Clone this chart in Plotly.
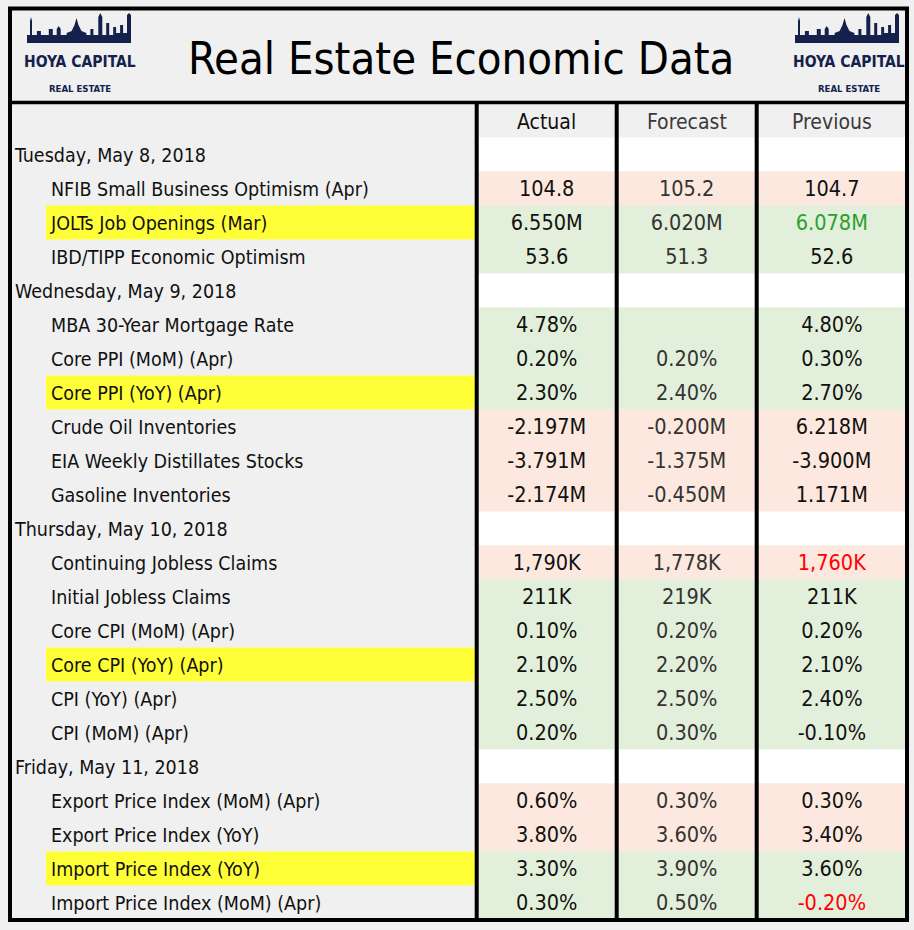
import plotly.graph_objects as go

# ---------------- data ----------------
title = "Real Estate Economic Data"
columns = ["Actual", "Forecast", "Previous"]

row_labels = [
    "Tuesday, May 8, 2018",
    "NFIB Small Business Optimism (Apr)",
    "JOLTs Job Openings (Mar)",
    "IBD/TIPP Economic Optimism",
    "Wednesday, May 9, 2018",
    "MBA 30-Year Mortgage Rate",
    "Core PPI (MoM) (Apr)",
    "Core PPI (YoY) (Apr)",
    "Crude Oil Inventories",
    "EIA Weekly Distillates Stocks",
    "Gasoline Inventories",
    "Thursday, May 10, 2018",
    "Continuing Jobless Claims",
    "Initial Jobless Claims",
    "Core CPI (MoM) (Apr)",
    "Core CPI (YoY) (Apr)",
    "CPI (YoY) (Apr)",
    "CPI (MoM) (Apr)",
    "Friday, May 11, 2018",
    "Export Price Index (MoM) (Apr)",
    "Export Price Index (YoY)",
    "Import Price Index (YoY)",
    "Import Price Index (MoM) (Apr)",
]
is_date_row = [True, False, False, False, True, False, False, False, False, False, False,
               True, False, False, False, False, False, False, True, False, False, False, False]
actual = ["", "104.8", "6.550M", "53.6", "", "4.78%", "0.20%", "2.30%", "-2.197M", "-3.791M",
          "-2.174M", "", "1,790K", "211K", "0.10%", "2.10%", "2.50%", "0.20%", "", "0.60%",
          "3.80%", "3.30%", "0.30%"]
forecast = ["", "105.2", "6.020M", "51.3", "", "", "0.20%", "2.40%", "-0.200M", "-1.375M",
            "-0.450M", "", "1,778K", "219K", "0.20%", "2.20%", "2.50%", "0.30%", "", "0.30%",
            "3.60%", "3.90%", "0.50%"]
previous = ["", "104.7", "6.078M", "52.6", "", "4.80%", "0.30%", "2.70%", "6.218M", "-3.900M",
            "1.171M", "", "1,760K", "211K", "0.20%", "2.10%", "2.40%", "-0.10%", "", "0.30%",
            "3.40%", "3.60%", "-0.20%"]
# row tone: "neg" = peach, "pos" = green, "" = date row
row_tone = ["", "neg", "pos", "pos", "", "pos", "pos", "pos", "neg", "neg", "neg", "",
            "neg", "pos", "pos", "pos", "pos", "pos", "", "neg", "neg", "pos", "pos"]
highlighted = [False, False, True, False, False, False, False, True, False, False, False, False,
               False, False, False, True, False, False, False, False, False, True, False]
# revision flag on the previous value: "up" green, "down" red
previous_revision = ["", "", "up", "", "", "", "", "", "", "", "", "", "down", "", "", "", "",
                     "", "", "", "", "", "down"]

# ---------------- styling / geometry ----------------
FONT = "DejaVu Sans Condensed, Liberation Sans Narrow, sans-serif"
BG = "#f0f0f0"
TONE_FILL = {"neg": "#fce8de", "pos": "#e2efda", "": "#ffffff"}
YELLOW = "#ffff38"
NAVY = "#14214d"
REV_COLOR = {"up": "#2ca02c", "down": "#ff0000", "": "#111111"}

W, H = 914, 930
ROW0_TOP = 137.5
ROW_H = 34.0
HEADER_TOP = 104.5
TEXT_DY = 2.5
col_left = [478.7, 618.7, 758.7]
col_right = [614.7, 754.7, 905.0]
col_center = [(a + b) / 2 for a, b in zip(col_left, col_right)]
n = len(row_labels)
row_center = [ROW0_TOP + ROW_H * (i + 0.5) + TEXT_DY for i in range(n)]

shapes = []
# cell backgrounds
for i in range(n):
    top = ROW0_TOP + ROW_H * i
    for j in range(3):
        shapes.append(dict(type="rect", xref="x", yref="y", x0=col_left[j], x1=col_right[j],
                           y0=top, y1=top + ROW_H, fillcolor=TONE_FILL[row_tone[i]],
                           line=dict(width=0), layer="below"))
    if highlighted[i]:
        shapes.append(dict(type="rect", xref="x", yref="y", x0=46, x1=475, y0=top,
                           y1=top + ROW_H, fillcolor=YELLOW, line=dict(width=0), layer="below"))
# vertical separators
for xv in [476.7, 616.7, 756.7]:
    shapes.append(dict(type="line", xref="x", yref="y", x0=xv, x1=xv, y0=102.5, y1=920,
                       line=dict(color="black", width=4)))
# title separator
shapes.append(dict(type="line", xref="x", yref="y", x0=10, x1=907, y0=102.5, y1=102.5,
                   line=dict(color="black", width=3.5)))
# outer border
shapes.append(dict(type="rect", xref="x", yref="y", x0=10, x1=907, y0=8.5, y1=920,
                   line=dict(color="black", width=4), fillcolor="rgba(0,0,0,0)"))


# logo skyline (decorative)
def skyline(x0, y_base, w):
    s = w / 105.0
    pts = [(0, 0), (0, -8), (3, -8), (3, -22), (4, -26), (5, -22), (5, -8), (10, -8), (10, -12),
           (14, -12), (14, -8), (22, -8), (22, -14), (26, -14), (26, -8), (30, -8), (30, -14),
           (32, -17), (34, -14), (34, -8), (40, -8), (40, -10), (45, -12), (48, -18), (50, -25),
           (52, -18), (55, -12), (60, -10), (60, -8), (64, -8), (64, -14), (67, -14), (67, -8),
           (72, -8), (72, -26), (74, -30), (76, -26), (76, -8), (80, -8), (80, -20), (83, -20),
           (83, -8), (87, -8), (87, -16), (90, -16), (90, -10), (94, -10), (94, -18), (97, -18),
           (97, -10), (101, -10), (101, -28), (103, -30), (105, -28), (105, 0)]
    path = "M " + " L ".join(f"{x0 + px * s:.1f},{y_base + py:.1f}" for px, py in pts) + " Z"
    return dict(type="path", xref="x", yref="y", path=path, fillcolor=NAVY, line=dict(width=0))


shapes.append(skyline(27, 43, 104))
shapes.append(skyline(795, 43, 104))

annotations = []
annotations.append(dict(x=461, y=58, xref="x", yref="y", text=title, showarrow=False,
                        font=dict(family=FONT, size=45, color="black"),
                        xanchor="center", yanchor="middle"))
for cx in [80, 849]:
    annotations.append(dict(x=cx, y=62, xref="x", yref="y", text="<b>HOYA CAPITAL</b>",
                            showarrow=False, font=dict(family=FONT, size=15.5, color=NAVY),
                            xanchor="center", yanchor="middle"))
    annotations.append(dict(x=cx, y=88, xref="x", yref="y", text="<b>REAL ESTATE</b>",
                            showarrow=False, font=dict(family=FONT, size=9.5, color=NAVY),
                            xanchor="center", yanchor="middle"))
header_colors = ["#111111", "#3a3a3a", "#3a3a3a"]
for j, c in enumerate(columns):
    annotations.append(dict(x=col_center[j], y=(HEADER_TOP + ROW0_TOP) / 2 + 1, xref="x", yref="y",
                            text=c, showarrow=False,
                            font=dict(family=FONT, size=21, color=header_colors[j]),
                            xanchor="center", yanchor="middle"))

fig = go.Figure()
# row labels
fig.add_trace(go.Scatter(
    x=[15 if d else 51 for d in is_date_row], y=row_center, text=row_labels,
    mode="text", textposition="middle right",
    textfont=dict(family=FONT, size=19.5, color="#111111"), hoverinfo="skip", showlegend=False))
# values
fig.add_trace(go.Scatter(
    x=[col_center[0]] * n, y=row_center, text=actual, mode="text", textposition="middle center",
    textfont=dict(family=FONT, size=21.5, color="#111111"), hoverinfo="skip", showlegend=False))
fig.add_trace(go.Scatter(
    x=[col_center[1]] * n, y=row_center, text=forecast, mode="text", textposition="middle center",
    textfont=dict(family=FONT, size=21.5, color="#333333"), hoverinfo="skip", showlegend=False))
fig.add_trace(go.Scatter(
    x=[col_center[2]] * n, y=row_center, text=previous, mode="text", textposition="middle center",
    textfont=dict(family=FONT, size=21.5, color=[REV_COLOR[r] for r in previous_revision]),
    hoverinfo="skip", showlegend=False))

fig.update_layout(
    width=W, height=H, margin=dict(l=0, r=0, t=0, b=0),
    paper_bgcolor=BG, plot_bgcolor=BG,
    xaxis=dict(range=[0, W], visible=False, fixedrange=True),
    yaxis=dict(range=[H, 0], visible=False, fixedrange=True),
    shapes=shapes, annotations=annotations, showlegend=False,
)
fig.write_html("out.html", config={"displayModeBar": False},
               post_script="document.body.style.margin='0';document.body.style.overflow='hidden';")
